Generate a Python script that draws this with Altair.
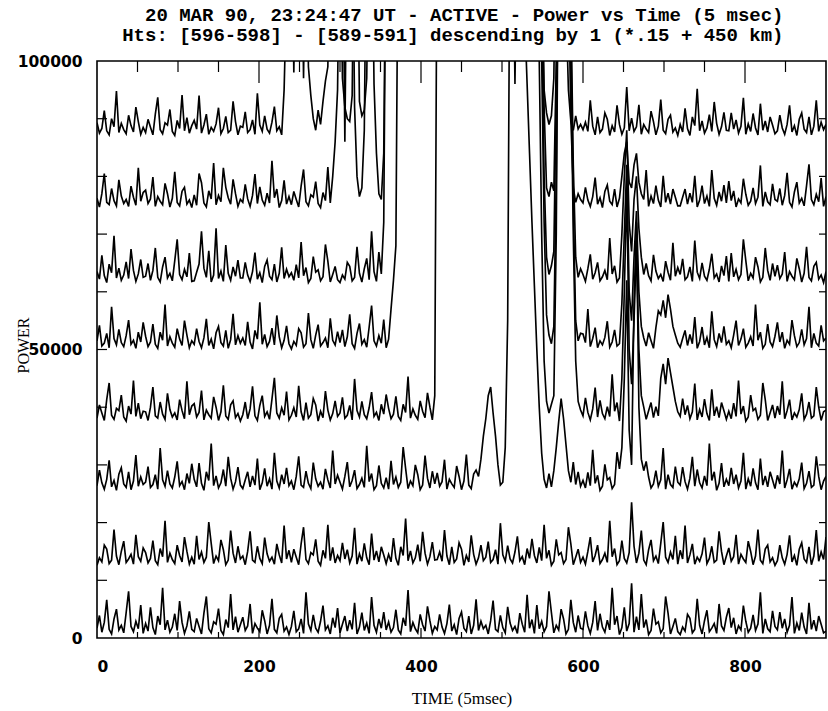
import altair as alt
import pandas as pd

# Sample times (units of 5 msec), every 3rd sample
time_5ms = list(range(0, 901, 3))

# Received power per height gate, in thousands (bottom trace first).
# Values above 100 (thousand) are off-scale and get clipped at the frame.
trace_1 = [
    1.7, 3.9, 1.0, 2.7, 6.6, 1.5, 0.7, 3.3, 5.0, 1.4, 2.2, 0.9, 4.4, 8.1, 2.0, 1.1, 2.9, 1.6, 5.7, 0.8,
    2.5, 1.2, 5.3, 1.8, 0.6, 3.8, 2.3, 8.7, 1.4, 3.1, 1.0, 1.9, 4.2, 1.3, 6.4, 2.7, 0.8, 2.1, 4.6, 1.5,
    1.1, 3.4, 2.0, 0.7, 4.3, 7.2, 1.6, 0.9, 2.8, 2.4, 5.1, 1.3, 0.6, 3.2, 1.8, 7.6, 1.4, 3.7, 1.0, 2.3,
    3.6, 1.3, 2.1, 5.9, 0.8, 2.5, 1.7, 1.1, 4.8, 3.0, 0.7, 2.2, 6.8, 1.5, 0.9, 3.4, 4.1, 1.2, 1.9, 0.6,
    2.0, 4.7, 1.1, 1.6, 3.3, 0.8, 7.9, 2.4, 1.3, 4.0, 1.7, 1.0, 2.9, 5.6, 1.4, 2.1, 0.7, 3.5, 1.8, 5.2,
    0.9, 2.4, 3.8, 1.2, 3.1, 1.5, 6.1, 0.7, 1.9, 4.4, 1.3, 2.6, 0.8, 7.1, 2.2, 1.0, 3.3, 1.7, 4.5, 1.4,
    2.8, 1.0, 1.8, 4.9, 1.4, 0.7, 3.5, 2.1, 8.3, 1.1, 2.7, 1.6, 0.9, 4.1, 2.3, 1.2, 5.5, 3.0, 0.8, 2.0,
    1.4, 4.1, 1.9, 0.8, 2.5, 5.8, 1.2, 2.3, 0.6, 3.4, 4.5, 1.7, 1.1, 3.8, 0.7, 2.2, 6.7, 1.3, 2.9, 1.6,
    2.2, 0.7, 3.0, 6.5, 1.5, 1.1, 3.9, 1.8, 0.9, 5.4, 2.6, 1.3, 2.0, 0.8, 4.3, 2.4, 1.0, 7.5, 1.7, 3.2,
    0.8, 5.7, 1.6, 2.9, 1.1, 2.0, 8.1, 4.4, 0.9, 2.2, 1.4, 5.0, 3.3, 0.7, 1.5, 6.6, 2.7, 1.0, 3.9, 1.7,
    1.5, 4.6, 2.1, 0.8, 2.7, 6.4, 1.3, 4.2, 1.9, 1.0, 3.1, 1.4, 8.7, 2.3, 3.8, 0.6, 1.8, 5.3, 1.2, 2.5,
    9.5, 1.0, 3.7, 1.4, 7.6, 1.8, 3.2, 0.6, 1.3, 5.1, 2.4, 2.8, 0.9, 1.6, 7.2, 4.3, 0.7, 2.0, 3.4, 1.1,
    0.6, 1.9, 1.2, 4.1, 3.4, 0.9, 1.5, 6.8, 2.2, 0.7, 3.0, 4.8, 1.1, 1.7, 2.5, 0.8, 5.9, 2.1, 1.3, 3.6,
    5.2, 1.8, 3.5, 0.7, 2.1, 1.4, 5.6, 2.9, 1.0, 1.7, 4.0, 1.3, 2.4, 7.9, 0.8, 3.3, 1.6, 1.1, 4.7, 2.0,
    1.4, 4.5, 1.7, 3.3, 1.0, 2.2, 7.1, 0.8, 2.6, 1.3, 4.4, 1.9, 0.7, 6.1, 1.5, 3.1, 1.2, 3.8, 2.4, 0.9,
    1.2,
]
trace_2 = [
    12.6, 13.9, 13.2, 16.1, 15.4, 12.9, 13.5, 18.8, 14.2, 12.7, 15.0, 16.8, 13.1, 13.7, 14.5, 12.8, 17.9, 14.1, 13.3, 15.6,
    14.8, 13.0, 13.8, 16.9, 13.4, 12.7, 15.5, 14.1, 20.3, 13.1, 14.7, 13.6, 12.9, 16.1, 14.3, 13.2, 17.5, 15.0, 12.8, 14.0,
    12.8, 17.7, 13.6, 14.9, 13.1, 14.0, 20.1, 16.4, 12.9, 14.2, 13.4, 17.0, 15.3, 12.7, 13.5, 18.6, 14.7, 13.0, 15.9, 13.7,
    14.2, 12.7, 15.0, 18.5, 13.5, 13.1, 15.9, 13.8, 12.9, 17.4, 14.6, 13.3, 14.0, 12.8, 16.3, 14.4, 13.0, 19.5, 13.7, 15.2,
    13.1, 15.4, 14.0, 12.7, 16.3, 19.2, 13.6, 12.9, 14.8, 14.4, 17.1, 13.3, 12.6, 15.2, 13.8, 19.6, 13.4, 15.7, 13.0, 14.3,
    13.4, 16.5, 13.7, 15.3, 13.0, 14.2, 19.1, 12.8, 14.6, 13.3, 16.4, 13.9, 12.7, 18.1, 13.5, 15.1, 13.2, 15.8, 14.4, 12.9,
    14.5, 13.2, 17.3, 13.8, 12.6, 15.8, 14.3, 20.7, 13.4, 15.1, 13.0, 13.9, 16.2, 13.3, 18.4, 14.7, 12.8, 14.1, 16.6, 13.5,
    13.6, 14.9, 13.3, 18.7, 14.2, 12.7, 15.8, 13.1, 13.7, 16.5, 15.4, 12.6, 14.3, 13.2, 17.8, 14.5, 12.8, 13.9, 16.1, 13.4,
    14.0, 16.7, 13.1, 13.6, 15.3, 12.8, 19.9, 14.4, 13.3, 16.0, 13.7, 13.0, 14.9, 17.6, 13.4, 14.1, 12.7, 15.5, 13.8, 17.2,
    14.3, 13.0, 15.7, 13.4, 19.6, 13.8, 15.2, 12.6, 13.3, 17.1, 14.4, 14.8, 12.9, 13.6, 19.2, 16.3, 12.7, 14.0, 15.4, 13.1,
    14.0, 12.8, 15.0, 17.5, 13.2, 14.3, 16.1, 12.9, 13.6, 14.7, 13.1, 20.3, 14.1, 15.5, 12.7, 13.4, 16.9, 13.8, 13.0, 14.8,
    23.5, 15.9, 13.0, 14.7, 18.6, 13.5, 12.7, 15.3, 17.0, 13.4, 14.2, 12.9, 16.4, 20.1, 14.0, 13.1, 14.9, 13.6, 17.7, 12.8,
    15.2, 13.7, 19.5, 13.0, 14.4, 16.3, 12.8, 14.0, 13.3, 14.6, 17.4, 12.9, 13.8, 15.9, 13.1, 13.5, 18.5, 15.0, 12.7, 14.2,
    15.6, 13.3, 14.1, 17.9, 12.8, 14.5, 13.7, 13.1, 16.8, 15.0, 12.7, 14.2, 18.8, 13.5, 12.9, 15.4, 16.1, 13.2, 13.9, 12.6,
    13.4, 16.1, 13.9, 12.8, 14.5, 17.8, 13.2, 14.3, 12.6, 15.4, 16.5, 13.7, 13.1, 15.8, 12.7, 14.2, 18.7, 13.3, 14.9, 13.6,
    17.5,
]
trace_3 = [
    26.4, 29.1, 26.9, 25.8, 27.5, 30.8, 26.2, 27.3, 25.6, 28.4, 29.5, 26.7, 26.1, 28.8, 25.7, 27.2, 31.7, 26.3, 27.9, 26.6,
    27.0, 29.7, 26.1, 26.6, 28.3, 25.8, 32.9, 27.4, 26.3, 29.0, 26.7, 26.0, 27.9, 30.6, 26.4, 27.1, 25.7, 28.5, 26.8, 30.2,
    27.5, 26.2, 30.3, 26.8, 25.6, 28.8, 27.3, 33.7, 26.4, 28.1, 26.0, 26.9, 29.2, 26.3, 31.4, 27.7, 25.8, 27.1, 29.6, 26.5,
    25.9, 27.4, 28.8, 26.2, 28.1, 26.5, 31.1, 25.7, 26.9, 29.4, 26.3, 27.6, 25.8, 32.1, 27.2, 26.0, 28.3, 26.7, 29.5, 26.4,
    27.2, 25.7, 28.0, 31.5, 26.5, 26.1, 28.9, 26.8, 25.9, 30.4, 27.6, 26.3, 27.0, 25.8, 29.3, 27.4, 26.0, 32.5, 26.7, 28.2,
    27.0, 25.8, 28.0, 30.5, 26.2, 27.3, 29.1, 25.9, 26.6, 27.7, 26.1, 33.3, 27.1, 28.5, 25.7, 26.4, 29.9, 26.8, 26.0, 27.8,
    25.8, 30.7, 26.6, 27.9, 26.1, 27.0, 33.1, 29.4, 25.9, 27.2, 26.4, 30.0, 28.3, 25.7, 26.5, 31.6, 27.7, 26.0, 28.9, 26.7,
    28.6, 26.3, 27.1, 30.9, 25.8, 27.5, 26.7, 26.1, 29.8, 28.0, 25.7, 27.2, 31.8, 26.5, 25.9, 28.4, 29.1, 28.0, 31.0, 35.0,
    38.0, 42.0, 43.5, 39.0, 35.0, 30.0, 26.5, 27.0, 33.0, 55, 130, 130, 130, 130, 130, 130, 108, 96, 84, 72,
    61, 50, 40, 32, 27.5, 26.0, 28.5, 26.2, 29.0, 33.0, 37.5, 41.5, 38.0, 33.5, 29.0, 27.0, 30.5, 26.6, 28.8, 26.3,
    27.3, 26.0, 28.7, 26.4, 32.6, 26.8, 28.2, 25.6, 26.3, 30.1, 27.4, 27.8, 25.9, 26.6, 32.2, 29.3, 33, 45, 62, 36,
    30, 58, 72, 40, 31, 29, 30.6, 27.9, 26.0, 26.7, 29.0, 26.3, 27.4, 32.9, 25.8, 28.3, 26.6, 26.1, 29.7, 27.0,
    26.5, 29.6, 27.1, 25.8, 27.7, 31.4, 26.3, 29.2, 26.9, 26.0, 28.1, 26.4, 33.7, 27.3, 28.8, 25.6, 26.8, 30.3, 26.2, 27.5,
    26.4, 29.5, 26.7, 28.3, 26.0, 27.2, 32.1, 25.8, 27.6, 26.3, 29.4, 26.9, 25.7, 31.1, 26.5, 28.1, 26.2, 28.8, 27.4, 25.9,
    28.2, 26.7, 32.5, 26.0, 27.4, 29.3, 25.8, 27.0, 26.3, 27.6, 30.4, 25.9, 26.8, 28.9, 26.1, 26.5, 31.5, 28.0, 25.7, 27.2,
    28.0,
]
trace_4 = [
    38.1, 40.4, 39.0, 37.7, 41.3, 44.2, 38.6, 37.9, 39.8, 39.4, 42.1, 38.3, 37.6, 40.2, 38.8, 44.6, 38.4, 40.7, 38.0, 39.3,
    39.2, 37.7, 40.0, 43.5, 38.5, 38.1, 40.9, 38.8, 37.9, 42.4, 39.6, 38.3, 39.0, 37.8, 41.3, 39.4, 38.0, 44.5, 38.7, 40.2,
    40.6, 38.3, 39.1, 42.9, 37.8, 39.5, 38.7, 38.1, 41.8, 40.0, 37.7, 39.2, 43.8, 38.5, 37.9, 40.4, 41.1, 38.2, 38.9, 37.6,
    38.7, 40.9, 38.0, 39.7, 43.6, 38.5, 37.7, 40.3, 42.0, 38.4, 39.2, 37.9, 41.4, 45.1, 39.0, 38.1, 39.9, 38.6, 42.7, 37.8,
    38.6, 39.9, 38.3, 43.7, 39.2, 37.7, 40.8, 38.1, 38.7, 41.5, 40.4, 37.6, 39.3, 38.2, 42.8, 39.5, 37.8, 38.9, 41.1, 38.4,
    39.0, 41.7, 38.1, 38.6, 40.3, 37.8, 44.9, 39.4, 38.3, 41.0, 38.7, 38.0, 39.9, 42.6, 38.4, 39.1, 37.7, 40.5, 38.8, 42.2,
    39.8, 38.0, 38.8, 41.9, 38.4, 37.7, 40.5, 39.1, 45.3, 38.1, 39.7, 38.6, 37.9, 41.1, 39.3, 38.2, 42.5, 40.0, 37.8, 42.0,
    130, 130, 130, 130, 130, 130, 130, 130, 130, 130, 130, 130, 130, 130, 130, 130, 130, 130, 130, 130,
    130, 130, 130, 130, 130, 130, 130, 130, 130, 130, 130, 130, 130, 130, 130, 130, 130, 130, 130, 130,
    130, 130, 100, 70, 48, 41.0, 39.0, 40.5, 42.0, 70, 130, 130, 130, 130, 130, 100, 70, 48, 41.0, 39.5,
    38.5, 41.6, 39.1, 37.8, 39.7, 43.4, 38.3, 41.2, 38.9, 38.0, 40.1, 38.4, 45.7, 39.3, 40.8, 37.6, 45, 60, 78, 50,
    44, 55, 68, 50, 42, 40, 37.9, 39.4, 40.8, 38.2, 40.1, 38.5, 45.0, 47.5, 44.0, 48.5, 46.0, 43.5, 41.0, 39.2,
    38.4, 41.5, 38.7, 40.3, 38.0, 39.2, 44.1, 37.8, 39.6, 38.3, 41.4, 38.9, 37.7, 43.1, 38.5, 40.1, 38.2, 40.8, 39.4, 37.9,
    39.3, 38.0, 40.7, 38.4, 44.6, 38.8, 40.2, 37.6, 38.3, 42.1, 39.4, 39.8, 37.9, 38.6, 44.2, 41.3, 37.7, 39.0, 40.4, 38.1,
    40.2, 38.7, 44.5, 38.0, 39.4, 41.3, 37.8, 39.0, 38.3, 39.6, 42.4, 37.9, 38.8, 40.9, 38.1, 38.5, 43.5, 40.0, 37.7, 39.2,
    39.5,
]
trace_5 = [
    51.5, 54.2, 50.6, 51.1, 52.8, 50.3, 57.4, 51.9, 50.8, 53.5, 51.2, 50.5, 52.4, 55.1, 50.9, 51.6, 50.2, 53.0, 51.3, 54.7,
    52.3, 50.5, 51.3, 54.4, 50.9, 50.2, 53.0, 51.6, 57.8, 50.6, 52.2, 51.1, 50.4, 53.6, 51.8, 50.7, 55.0, 52.5, 50.3, 51.5,
    50.9, 53.6, 51.4, 50.3, 52.0, 55.3, 50.7, 51.8, 50.1, 52.9, 54.0, 51.2, 50.6, 53.3, 50.2, 51.7, 56.2, 50.8, 52.4, 51.1,
    52.0, 50.7, 54.8, 51.3, 50.1, 53.3, 51.8, 58.2, 50.9, 52.6, 50.5, 51.4, 53.7, 50.8, 55.9, 52.2, 50.3, 51.6, 54.1, 51.0,
    50.1, 51.4, 50.7, 53.6, 52.9, 50.4, 51.0, 56.3, 51.7, 50.2, 52.5, 54.3, 50.6, 51.2, 52.0, 50.3, 55.4, 51.6, 50.8, 53.1,
    51.2, 53.4, 50.5, 52.2, 56.1, 51.0, 50.2, 52.8, 54.5, 50.9, 51.7, 50.4, 53.9, 57.6, 51.5, 50.6, 52.4, 51.1, 55.2, 50.3,
    51.8, 57.0, 62.0, 68.0, 130, 130, 130, 130, 130, 130, 130, 130, 130, 130, 130, 130, 130, 130, 130, 130,
    130, 130, 130, 130, 130, 130, 130, 130, 130, 130, 130, 130, 130, 130, 130, 130, 130, 130, 130, 130,
    130, 130, 130, 130, 130, 130, 130, 130, 130, 130, 130, 130, 130, 130, 130, 130, 130, 130, 130, 130,
    130, 130, 130, 100, 72, 56, 52.5, 51.0, 54.0, 80, 130, 130, 130, 130, 130, 105, 75, 55.0, 51.5, 52.8,
    52.7, 51.2, 57.0, 50.5, 51.9, 53.8, 50.3, 51.5, 50.8, 52.1, 54.9, 50.4, 51.3, 53.4, 50.6, 51.0, 58, 70, 82, 60,
    55, 66, 74, 60, 54, 52, 50.6, 52.9, 51.5, 50.2, 53.8, 56.7, 56.0, 58.5, 55.5, 59.5, 57.0, 54.0, 52.5, 51.1,
    50.4, 51.9, 53.3, 50.7, 52.6, 51.0, 55.6, 50.2, 51.4, 53.9, 50.8, 52.1, 50.3, 56.6, 51.7, 50.5, 52.8, 51.2, 54.0, 50.9,
    51.5, 50.3, 52.5, 55.0, 50.7, 51.8, 53.6, 50.4, 51.1, 52.2, 50.6, 57.8, 51.6, 53.0, 50.2, 50.9, 54.4, 51.3, 50.5, 52.3,
    54.7, 51.3, 53.0, 50.2, 51.6, 50.9, 55.1, 52.4, 50.5, 51.2, 53.5, 50.8, 51.9, 57.4, 50.3, 52.8, 51.1, 50.6, 54.2, 51.5,
    52.0,
]
trace_6 = [
    63.5, 62.2, 66.3, 62.8, 61.6, 64.8, 63.3, 69.7, 62.4, 64.1, 62.0, 62.9, 65.2, 62.3, 67.4, 63.7, 61.8, 63.1, 65.6, 62.5,
    62.7, 64.9, 62.0, 63.7, 67.6, 62.5, 61.7, 64.3, 66.0, 62.4, 63.2, 61.9, 65.4, 69.1, 63.0, 62.1, 63.9, 62.6, 66.7, 61.8,
    61.9, 63.4, 64.8, 70.5, 64.1, 62.5, 67.1, 61.7, 62.9, 71.0, 62.3, 63.6, 61.8, 68.1, 63.2, 62.0, 64.3, 62.7, 65.5, 62.4,
    62.4, 65.1, 62.9, 61.8, 63.5, 66.8, 62.2, 63.3, 61.6, 64.4, 65.5, 62.7, 62.1, 64.8, 61.7, 63.2, 67.7, 62.3, 63.9, 62.6,
    63.3, 62.0, 64.7, 62.4, 68.6, 62.8, 64.2, 61.6, 62.3, 66.1, 63.4, 63.8, 61.9, 62.6, 68.2, 65.3, 61.7, 63.0, 64.4, 62.1,
    61.6, 62.9, 62.2, 65.1, 64.4, 61.9, 62.5, 67.8, 63.2, 61.7, 64.0, 65.8, 62.1, 70.5, 63.5, 61.8, 66.9, 63.1, 72.0, 130,
    130, 130, 130, 130, 130, 130, 130, 130, 130, 130, 130, 130, 130, 130, 130, 130, 130, 130, 130, 130,
    130, 130, 130, 130, 130, 130, 130, 130, 130, 130, 130, 130, 130, 130, 130, 130, 130, 130, 130, 130,
    130, 130, 130, 130, 130, 130, 130, 130, 130, 130, 130, 130, 130, 130, 130, 130, 130, 130, 130, 130,
    130, 130, 130, 110, 80, 66.0, 63.0, 64.5, 67.0, 95, 130, 130, 130, 130, 130, 110, 82, 66.0, 62.5, 64.0,
    63.0, 61.8, 64.0, 66.5, 62.2, 63.3, 65.1, 61.9, 62.6, 63.7, 62.1, 69.3, 63.1, 64.5, 61.7, 62.4, 70, 80, 88, 72,
    67, 76, 80, 71, 66, 63, 64.9, 62.8, 61.9, 66.4, 63.6, 62.3, 63.0, 61.8, 65.3, 63.4, 62.0, 68.5, 62.7, 64.2,
    63.0, 65.7, 62.1, 62.6, 64.3, 61.8, 68.9, 63.4, 62.3, 65.0, 62.7, 62.0, 63.9, 66.6, 62.4, 63.1, 61.7, 64.5, 62.8, 66.2,
    61.8, 66.7, 62.6, 63.9, 62.1, 63.0, 69.1, 65.4, 61.9, 63.2, 62.4, 66.0, 64.3, 61.7, 62.5, 67.6, 63.7, 62.0, 64.9, 62.7,
    64.6, 62.3, 63.1, 66.9, 61.8, 63.5, 62.7, 62.1, 65.8, 64.0, 61.7, 63.2, 67.8, 62.5, 61.9, 64.4, 65.1, 62.2, 62.9, 61.6,
    63.5,
]
trace_7 = [
    76.2, 74.7, 77.0, 80.5, 75.5, 75.1, 77.9, 75.8, 74.9, 79.4, 76.6, 75.3, 76.0, 74.8, 78.3, 76.4, 75.0, 81.5, 75.7, 77.2,
    77.6, 75.3, 76.1, 79.9, 74.8, 76.5, 75.7, 75.1, 78.8, 77.0, 74.7, 76.2, 80.8, 75.5, 74.9, 77.4, 78.1, 75.2, 75.9, 74.6,
    76.8, 75.0, 80.5, 78.9, 75.4, 74.7, 77.5, 76.1, 82.3, 75.1, 76.7, 75.6, 81.5, 78.1, 76.3, 75.2, 79.5, 77.0, 74.8, 76.0,
    75.5, 78.6, 76.1, 74.8, 76.7, 80.4, 75.3, 78.2, 75.9, 75.0, 77.1, 75.4, 82.7, 76.3, 77.8, 74.6, 75.8, 79.3, 75.2, 76.5,
    75.1, 77.4, 76.0, 74.7, 78.3, 81.2, 75.6, 74.9, 76.8, 76.4, 79.1, 75.3, 74.6, 77.2, 75.8, 81.6, 75.4, 80.0, 86.0, 95,
    130, 130, 86.0, 130, 130, 130, 92.0, 80.0, 76.5, 78.0, 88, 130, 130, 130, 96, 84, 77.0, 76.0, 84.0, 130,
    130, 130, 130, 130, 130, 130, 130, 130, 130, 130, 130, 130, 130, 130, 130, 130, 130, 130, 130, 130,
    130, 130, 130, 130, 130, 130, 130, 130, 130, 130, 130, 130, 130, 130, 130, 130, 130, 130, 130, 130,
    130, 130, 130, 130, 130, 130, 130, 130, 130, 130, 130, 130, 130, 130, 130, 130, 130, 130, 130, 130,
    130, 130, 130, 120, 92, 78.0, 76.5, 79.0, 77.5, 100, 130, 130, 130, 130, 115, 90, 78.0, 75.5, 77.0, 76.0,
    75.4, 78.1, 75.9, 74.8, 76.5, 79.8, 75.2, 76.3, 74.6, 77.4, 78.5, 75.7, 75.1, 77.8, 74.7, 76.2, 80, 84, 86, 79,
    78, 82, 84, 79, 77, 76, 81.1, 74.8, 76.6, 75.3, 78.4, 75.9, 74.7, 80.1, 75.5, 77.1, 75.2, 77.8, 76.4, 74.9,
    74.9, 76.4, 77.8, 75.2, 77.1, 75.5, 80.1, 74.7, 75.9, 78.4, 75.3, 76.6, 74.8, 81.1, 76.2, 75.0, 77.3, 75.7, 78.5, 75.4,
    79.2, 75.8, 77.5, 74.7, 76.1, 75.4, 79.6, 76.9, 75.0, 75.7, 78.0, 75.3, 76.4, 81.9, 74.8, 77.3, 75.6, 75.1, 78.7, 76.0,
    75.7, 77.9, 75.0, 76.7, 80.6, 75.5, 74.7, 77.3, 79.0, 75.4, 76.2, 74.9, 78.4, 82.1, 76.0, 75.1, 76.9, 75.6, 79.7, 74.8,
    76.5,
]
trace_8 = [
    89.3, 87.5, 88.3, 91.4, 87.9, 87.2, 90.0, 88.6, 94.8, 87.6, 89.2, 88.1, 87.4, 90.6, 88.8, 87.7, 92.0, 89.5, 87.3, 88.5,
    87.6, 89.9, 88.5, 87.2, 90.8, 93.7, 88.1, 87.4, 89.3, 88.9, 91.6, 87.8, 87.1, 89.7, 88.3, 94.1, 87.9, 90.2, 87.5, 88.8,
    89.7, 88.2, 94.0, 87.5, 88.9, 90.8, 87.3, 88.5, 87.8, 89.1, 91.9, 87.4, 88.3, 90.4, 87.6, 88.0, 93.0, 89.5, 87.2, 88.7,
    88.5, 91.2, 87.6, 88.1, 89.8, 87.3, 94.4, 88.9, 87.8, 90.5, 88.2, 87.5, 89.4, 92.1, 87.9, 88.6, 87.2, 95.0, 112, 130,
    130, 98.0, 130, 130, 130, 97.0, 130, 99.0, 94.0, 90.0, 88.0, 91.5, 89.0, 93.0, 96.5, 99, 130, 130, 130, 130,
    130, 97.0, 92.0, 90.0, 89.5, 94, 130, 130, 93.0, 90.5, 91.5, 97, 130, 130, 130, 130, 130, 130, 130, 130,
    130, 130, 130, 130, 130, 130, 130, 130, 130, 130, 130, 130, 130, 130, 130, 130, 130, 130, 130, 130,
    130, 130, 130, 130, 130, 130, 130, 130, 130, 130, 130, 130, 130, 130, 130, 130, 130, 130, 130, 130,
    130, 130, 130, 130, 130, 130, 130, 130, 130, 130, 130, 130, 96.0, 130, 130, 130, 130, 130, 130, 130,
    130, 130, 130, 115, 95, 91.0, 89.0, 90.5, 97, 130, 130, 130, 130, 110, 95, 89.5, 88.0, 90.5, 88.2, 89.0,
    88.1, 89.4, 87.8, 93.2, 88.7, 87.2, 90.3, 87.6, 88.2, 91.0, 89.9, 87.1, 88.8, 87.7, 92.3, 89.0, 87.3, 88.4, 95.5, 87.9,
    90.1, 87.8, 88.6, 92.4, 87.3, 89.0, 88.2, 87.6, 91.3, 89.5, 87.2, 88.7, 93.3, 88.0, 87.4, 89.9, 90.6, 87.7, 88.4, 87.1,
    89.0, 87.7, 91.8, 88.3, 87.1, 90.3, 88.8, 95.2, 87.9, 89.6, 87.5, 88.4, 90.7, 87.8, 92.9, 89.2, 87.3, 88.6, 91.1, 88.0,
    87.9, 91.0, 88.2, 89.8, 87.5, 88.7, 93.6, 87.3, 89.1, 87.8, 90.9, 88.4, 87.2, 92.6, 88.0, 89.6, 87.7, 90.3, 88.9, 87.4,
    87.9, 90.6, 88.4, 87.3, 89.0, 92.3, 87.7, 88.8, 87.1, 89.9, 91.0, 88.2, 87.6, 90.3, 87.2, 88.7, 93.2, 87.8, 89.4, 88.1,
    89.0,
]

# Axis labels and inward tick positions
x_labels = [0, 200, 400, 600, 800]
y_labels = [0, 50000, 100000]
x_ticks_minor = [50, 100, 150, 250, 300, 350, 450, 500, 550, 650, 700, 750, 850]
x_ticks_major = [200, 400, 600, 800]
y_ticks = [10000, 20000, 30000, 40000, 50000, 60000, 70000, 80000, 90000]

title_line = "20 MAR 90, 23:24:47 UT - ACTIVE - Power vs Time (5 msec)"
subtitle_line = "Hts: [596-598] - [589-591] descending by 1 (*.15 + 450 km)"

traces = [trace_1, trace_2, trace_3, trace_4, trace_5, trace_6, trace_7, trace_8]
records = []
for idx, trace in enumerate(traces, start=1):
    if len(trace) != len(time_5ms):
        raise ValueError(f"trace_{idx} has {len(trace)} values")
    for t, v in zip(time_5ms, trace):
        records.append({"t": t, "power": v * 1000, "trace": idx})
df = pd.DataFrame(records)

W, H = 729, 577
x_scale = alt.Scale(domain=[0, 900], nice=False, zero=False)
y_scale = alt.Scale(domain=[0, 100000], nice=False, zero=False)

# One axis definition per channel, shared by every layer so they merge cleanly
x_axis = alt.Axis(
    orient="bottom", values=x_labels, format="d", title="TIME (5msec)", grid=False,
    ticks=False, tickSize=0, domain=False,
    labelFont="DejaVu Sans", labelFontWeight="bold", labelFontSize=15.5,
    labelColor="black", labelPadding=21,
    titleFont="Liberation Serif", titleFontWeight="normal", titleFontSize=17,
    titleColor="black", titleY=60, titleBaseline="middle",
)
y_axis = alt.Axis(
    orient="left", values=y_labels, format="d", title="POWER", grid=False,
    ticks=False, tickSize=0, domain=False,
    labelFont="DejaVu Sans", labelFontWeight="bold", labelFontSize=15.5,
    labelColor="black", labelPadding=15,
    titleFont="Liberation Serif", titleFontWeight="normal", titleFontSize=16,
    titleColor="black", titleX=-66, titleY=284, titleAngle=270,
)

lines = alt.Chart(df).mark_line(color="black", strokeWidth=1.65, clip=True).encode(
    x=alt.X("t:Q", scale=x_scale, axis=x_axis),
    y=alt.Y("power:Q", scale=y_scale, axis=y_axis),
    detail="trace:N",
)


def x_rules(values, y0, y1):
    return alt.Chart(pd.DataFrame({"t": values})).mark_rule(
        color="black", strokeWidth=1.2
    ).encode(
        x=alt.X("t:Q", scale=x_scale, axis=x_axis),
        y=alt.value(y0), y2=alt.value(y1),
    )


def y_rules(values, x0, x1):
    return alt.Chart(pd.DataFrame({"power": values})).mark_rule(
        color="black", strokeWidth=1.2
    ).encode(
        y=alt.Y("power:Q", scale=y_scale, axis=y_axis),
        x=alt.value(x0), x2=alt.value(x1),
    )


ticks = [
    x_rules(x_ticks_minor, 0, 11),
    x_rules(x_ticks_major, 0, 22),
    x_rules(x_ticks_minor, H, H - 6),
    x_rules(x_ticks_major, H, H - 10),
    y_rules(y_ticks, 0, 10),
    y_rules(y_ticks, W, W - 7),
]

chart = alt.layer(lines, *ticks).properties(
    width=W,
    height=H,
    padding={"left": 97, "top": 61, "right": 2, "bottom": 73},
    autosize=alt.AutoSizeParams(type="none"),
    background="white",
    title=alt.Title(
        text=title_line, subtitle=subtitle_line,
        font="Liberation Mono", fontSize=19, fontWeight="bold", color="black",
        subtitleFont="Liberation Mono", subtitleFontSize=19, subtitleFontWeight="bold",
        subtitleColor="black", subtitlePadding=1,
        anchor="middle", align="right", dx=322, offset=9,
    ),
).configure_view(stroke="black", strokeWidth=1.6)

chart.save("out.html", embed_options={"renderer": "svg", "actions": False})
